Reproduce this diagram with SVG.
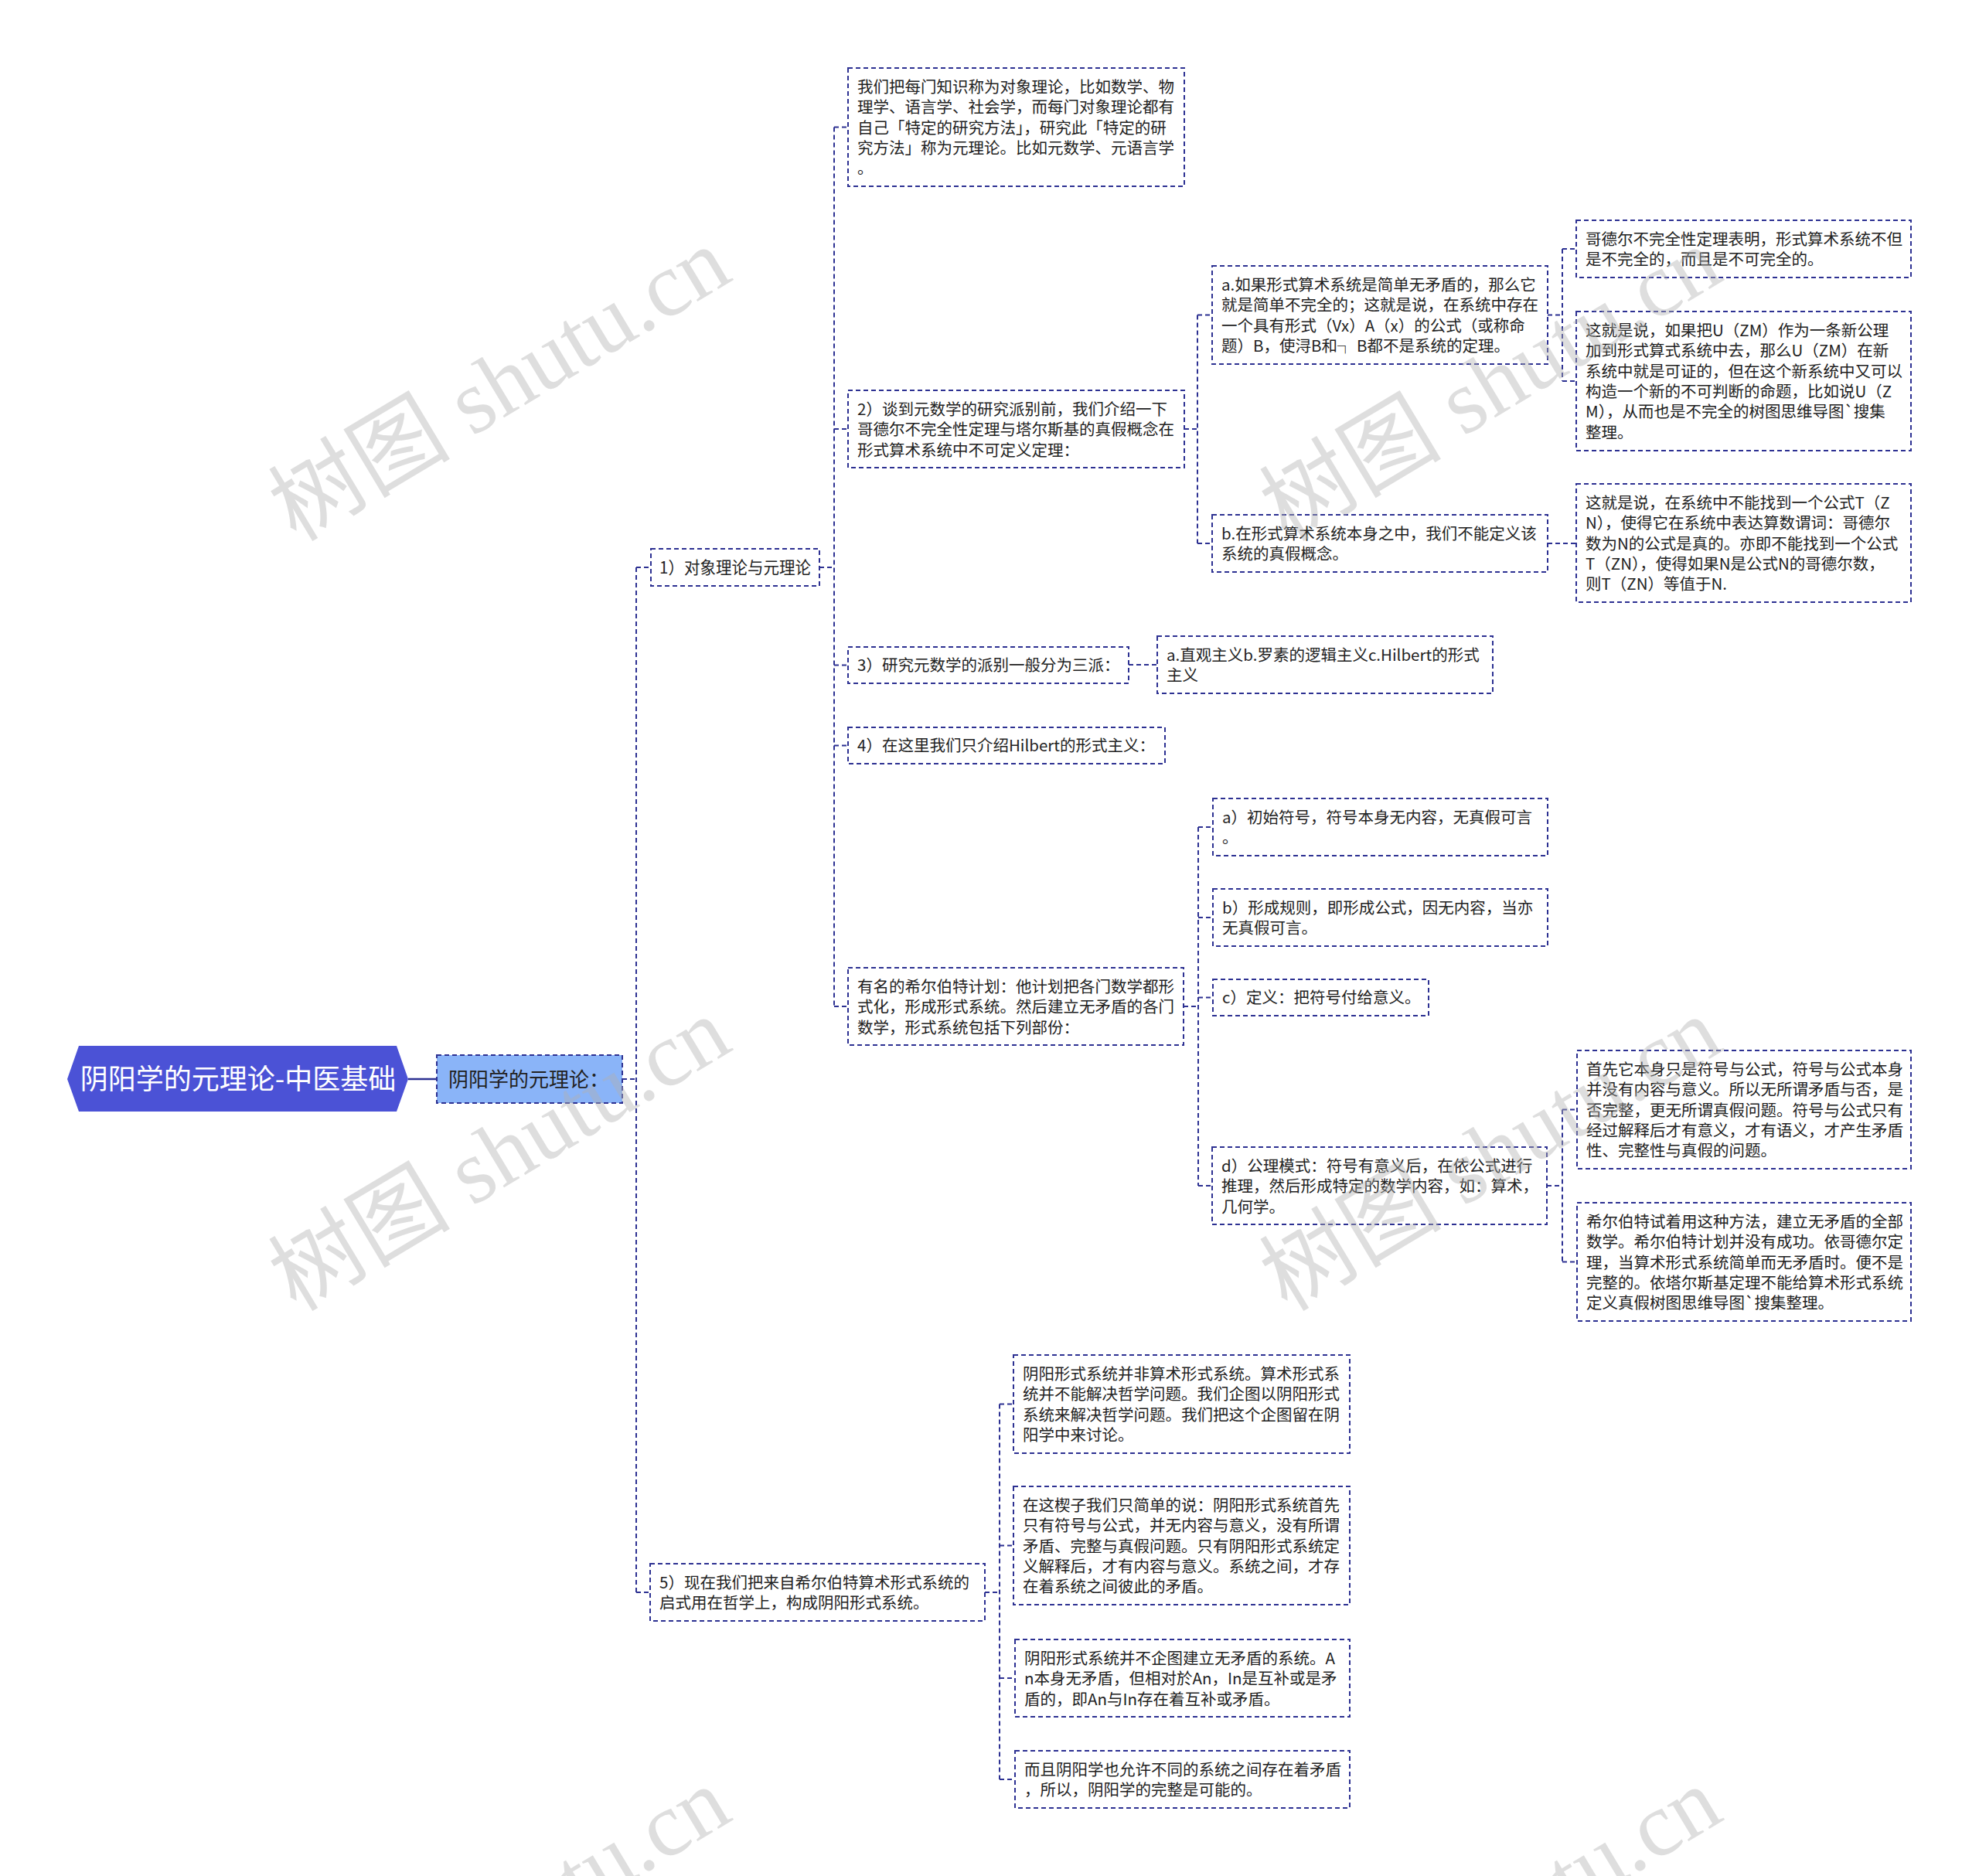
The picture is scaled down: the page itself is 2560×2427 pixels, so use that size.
<svg xmlns="http://www.w3.org/2000/svg" width="2560" height="2427" viewBox="0 0 2560 2427">
<style>
.box{fill:#fff;stroke:#2d3192;stroke-width:2;stroke-dasharray:6 4}
.l1{fill:#8ab4f8;stroke:#2d3192;stroke-width:2;stroke-dasharray:6 4}
.t{font-family:"Noto Sans CJK SC","Noto Sans",sans-serif;font-size:20.5px;fill:#222}
.conn path{fill:none;stroke:#2d3192;stroke-width:2;stroke-dasharray:6 4}
.wm{font-family:"Liberation Serif","Noto Sans CJK SC",serif;font-size:118px;fill:#b0b0b0;fill-opacity:0.42}
</style>
<rect width="2560" height="2427" fill="#fff"/>
<g class="conn" id="connectors">
<path d="M528,1396 H565" style="stroke-dasharray:none;stroke-width:2.5"/>
<path d="M805,1396 H823 M823,734 V2060 M823,734 H842 M823,2060 H841"/>
<path d="M1060,734 H1079 M1079,164.5 V1302 M1079,164.5 H1097 M1079,555 H1097 M1079,860.5 H1097 M1079,964.5 H1097 M1079,1302 H1097"/>
<path d="M1532,555 H1549 M1549,407.5 V703 M1549,407.5 H1568 M1549,703 H1568"/>
<path d="M2002,407.5 H2021 M2021,322 V493 M2021,322 H2039 M2021,493 H2039"/>
<path d="M2002,703 H2039"/>
<path d="M1460,860 H1497"/>
<path d="M1531,1302 H1550 M1550,1070 V1534 M1550,1070 H1569 M1550,1187 H1569 M1550,1290.5 H1569 M1550,1534 H1568"/>
<path d="M2001,1534 H2021 M2021,1435.5 V1632.5 M2021,1435.5 H2040 M2021,1632.5 H2040"/>
<path d="M1274,2060 H1293 M1293,1816.5 V2302 M1293,1816.5 H1311 M1293,1999.5 H1311 M1293,2171 H1313 M1293,2302 H1313"/>
</g>
<g id="root">
<polygon points="87,1396 102,1353 513,1353 528,1396 513,1438 102,1438" fill="#4b52d6"/>
<text x="308" y="1409" text-anchor="middle" style="font-family:'Noto Sans CJK SC','Noto Sans',sans-serif;font-size:36px;fill:#fff">阴阳学的元理论-中医基础</text>
</g>
<g id="n-l1">
<rect class="l1" x="565" y="1365" width="240" height="62"/>
<text class="t" x="580" y="1405.5" style="font-size:26px">阴阳学的元理论：</text>
</g>
<g id="n1">
<rect class="box" x="842" y="710" width="218" height="48"/>
<text class="t" x="853" y="742" style="font-size:21.5px" textLength="196" lengthAdjust="spacingAndGlyphs">1）对象理论与元理论</text>
</g>
<g id="nA">
<rect class="box" x="1097" y="88" width="435" height="153"/>
<text class="t" x="1109" y="120"><tspan>我们把每门知识称为对象理论，比如数学、物</tspan><tspan x="1109" dy="26.3">理学、语言学、社会学，而每门对象理论都有</tspan><tspan x="1109" dy="26.3">自己「特定的研究方法」，研究此「特定的研</tspan><tspan x="1109" dy="26.3">究方法」称为元理论。比如元数学、元语言学</tspan><tspan x="1109" dy="26.3">。</tspan></text>
</g>
<g id="n2">
<rect class="box" x="1097" y="505" width="435" height="100"/>
<text class="t" x="1109" y="537"><tspan>2）谈到元数学的研究派别前，我们介绍一下</tspan><tspan x="1109" dy="26.3">哥德尔不完全性定理与塔尔斯基的真假概念在</tspan><tspan x="1109" dy="26.3">形式算术系统中不可定义定理：</tspan></text>
</g>
<g id="n2a">
<rect class="box" x="1568" y="344" width="434" height="127"/>
<text class="t" x="1580" y="376"><tspan>a.如果形式算术系统是简单无矛盾的，那么它</tspan><tspan x="1580" dy="26.3">就是简单不完全的；这就是说，在系统中存在</tspan><tspan x="1580" dy="26.3">一个具有形式（Vx）A（x）的公式（或称命</tspan><tspan x="1580" dy="26.3">题）B，使浔B和┐ B都不是系统的定理。</tspan></text>
</g>
<g id="n2a1">
<rect class="box" x="2039" y="285" width="433" height="74"/>
<text class="t" x="2051" y="317"><tspan>哥德尔不完全性定理表明，形式算术系统不但</tspan><tspan x="2051" dy="26.3">是不完全的，而且是不可完全的。</tspan></text>
</g>
<g id="n2a2">
<rect class="box" x="2039" y="403" width="433" height="180"/>
<text class="t" x="2051" y="435"><tspan>这就是说，如果把U（ZM）作为一条新公理</tspan><tspan x="2051" dy="26.3">加到形式算式系统中去，那么U（ZM）在新</tspan><tspan x="2051" dy="26.3">系统中就是可证的，但在这个新系统中又可以</tspan><tspan x="2051" dy="26.3">构造一个新的不可判断的命题，比如说U（Z</tspan><tspan x="2051" dy="26.3">M），从而也是不完全的树图思维导图`搜集</tspan><tspan x="2051" dy="26.3">整理。</tspan></text>
</g>
<g id="n2b">
<rect class="box" x="1568" y="666" width="434" height="74"/>
<text class="t" x="1580" y="698"><tspan>b.在形式算术系统本身之中，我们不能定义该</tspan><tspan x="1580" dy="26.3">系统的真假概念。</tspan></text>
</g>
<g id="n2b1">
<rect class="box" x="2039" y="626" width="433" height="153"/>
<text class="t" x="2051" y="658"><tspan>这就是说，在系统中不能找到一个公式T（Z</tspan><tspan x="2051" dy="26.3">N），使得它在系统中表达算数谓词：哥德尔</tspan><tspan x="2051" dy="26.3">数为N的公式是真的。亦即不能找到一个公式</tspan><tspan x="2051" dy="26.3">T（ZN），使得如果N是公式N的哥德尔数，</tspan><tspan x="2051" dy="26.3">则T（ZN）等值于N.</tspan></text>
</g>
<g id="n3">
<rect class="box" x="1097" y="837" width="363" height="47"/>
<text class="t" x="1109" y="868">3）研究元数学的派别一般分为三派：</text>
</g>
<g id="n3a">
<rect class="box" x="1497" y="823" width="434" height="74"/>
<text class="t" x="1509" y="855"><tspan>a.直观主义b.罗素的逻辑主义c.Hilbert的形式</tspan><tspan x="1509" dy="26.3">主义</tspan></text>
</g>
<g id="n4">
<rect class="box" x="1097" y="941" width="410" height="47"/>
<text class="t" x="1109" y="972">4）在这里我们只介绍Hilbert的形式主义：</text>
</g>
<g id="nH">
<rect class="box" x="1097" y="1252" width="434" height="100"/>
<text class="t" x="1109" y="1284"><tspan>有名的希尔伯特计划：他计划把各门数学都形</tspan><tspan x="1109" dy="26.3">式化，形成形式系统。然后建立无矛盾的各门</tspan><tspan x="1109" dy="26.3">数学，形式系统包括下列部份：</tspan></text>
</g>
<g id="nHa">
<rect class="box" x="1569" y="1033" width="433" height="74"/>
<text class="t" x="1581" y="1065"><tspan>a）初始符号，符号本身无内容，无真假可言</tspan><tspan x="1581" dy="26.3">。</tspan></text>
</g>
<g id="nHb">
<rect class="box" x="1569" y="1150" width="433" height="74"/>
<text class="t" x="1581" y="1182"><tspan>b）形成规则，即形成公式，因无内容，当亦</tspan><tspan x="1581" dy="26.3">无真假可言。</tspan></text>
</g>
<g id="nHc">
<rect class="box" x="1569" y="1267" width="279" height="47"/>
<text class="t" x="1581" y="1298">c）定义：把符号付给意义。</text>
</g>
<g id="nHd">
<rect class="box" x="1568" y="1484" width="433" height="100"/>
<text class="t" x="1580" y="1516"><tspan>d）公理模式：符号有意义后，在依公式进行</tspan><tspan x="1580" dy="26.3">推理，然后形成特定的数学内容，如：算术，</tspan><tspan x="1580" dy="26.3">几何学。</tspan></text>
</g>
<g id="nHd1">
<rect class="box" x="2040" y="1359" width="432" height="153"/>
<text class="t" x="2052" y="1391"><tspan>首先它本身只是符号与公式，符号与公式本身</tspan><tspan x="2052" dy="26.3">并没有内容与意义。所以无所谓矛盾与否，是</tspan><tspan x="2052" dy="26.3">否完整，更无所谓真假问题。符号与公式只有</tspan><tspan x="2052" dy="26.3">经过解释后才有意义，才有语义，才产生矛盾</tspan><tspan x="2052" dy="26.3">性、完整性与真假的问题。</tspan></text>
</g>
<g id="nHd2">
<rect class="box" x="2040" y="1556" width="432" height="153"/>
<text class="t" x="2052" y="1588"><tspan>希尔伯特试着用这种方法，建立无矛盾的全部</tspan><tspan x="2052" dy="26.3">数学。希尔伯特计划并没有成功。依哥德尔定</tspan><tspan x="2052" dy="26.3">理，当算术形式系统简单而无矛盾时。便不是</tspan><tspan x="2052" dy="26.3">完整的。依塔尔斯基定理不能给算术形式系统</tspan><tspan x="2052" dy="26.3">定义真假树图思维导图`搜集整理。</tspan></text>
</g>
<g id="n5">
<rect class="box" x="841" y="2023" width="433" height="74"/>
<text class="t" x="853" y="2055"><tspan>5）现在我们把来自希尔伯特算术形式系统的</tspan><tspan x="853" dy="26.3">启式用在哲学上，构成阴阳形式系统。</tspan></text>
</g>
<g id="n5a">
<rect class="box" x="1311" y="1753" width="435" height="127"/>
<text class="t" x="1323" y="1785"><tspan>阴阳形式系统并非算术形式系统。算术形式系</tspan><tspan x="1323" dy="26.3">统并不能解决哲学问题。我们企图以阴阳形式</tspan><tspan x="1323" dy="26.3">系统来解决哲学问题。我们把这个企图留在阴</tspan><tspan x="1323" dy="26.3">阳学中来讨论。</tspan></text>
</g>
<g id="n5b">
<rect class="box" x="1311" y="1923" width="435" height="153"/>
<text class="t" x="1323" y="1955"><tspan>在这楔子我们只简单的说：阴阳形式系统首先</tspan><tspan x="1323" dy="26.3">只有符号与公式，并无内容与意义，没有所谓</tspan><tspan x="1323" dy="26.3">矛盾、完整与真假问题。只有阴阳形式系统定</tspan><tspan x="1323" dy="26.3">义解释后，才有内容与意义。系统之间，才存</tspan><tspan x="1323" dy="26.3">在着系统之间彼此的矛盾。</tspan></text>
</g>
<g id="n5c">
<rect class="box" x="1313" y="2121" width="433" height="100"/>
<text class="t" x="1325" y="2153"><tspan>阴阳形式系统并不企图建立无矛盾的系统。A</tspan><tspan x="1325" dy="26.3">n本身无矛盾，但相对於An，In是互补或是矛</tspan><tspan x="1325" dy="26.3">盾的，即An与In存在着互补或矛盾。</tspan></text>
</g>
<g id="n5d">
<rect class="box" x="1313" y="2265" width="433" height="74"/>
<text class="t" x="1325" y="2297"><tspan>而且阴阳学也允许不同的系统之间存在着矛盾</tspan><tspan x="1325" dy="26.3">，所以，阴阳学的完整是可能的。</tspan></text>
</g>
<g id="watermark">
<text class="wm" transform="translate(383,702) rotate(-31)">树图 shutu.cn</text>
<text class="wm" transform="translate(1665,702) rotate(-31)">树图 shutu.cn</text>
<text class="wm" transform="translate(383,1698) rotate(-31)">树图 shutu.cn</text>
<text class="wm" transform="translate(1665,1698) rotate(-31)">树图 shutu.cn</text>
<text class="wm" transform="translate(383,2694) rotate(-31)">树图 shutu.cn</text>
<text class="wm" transform="translate(1665,2694) rotate(-31)">树图 shutu.cn</text>
</g>
</svg>
